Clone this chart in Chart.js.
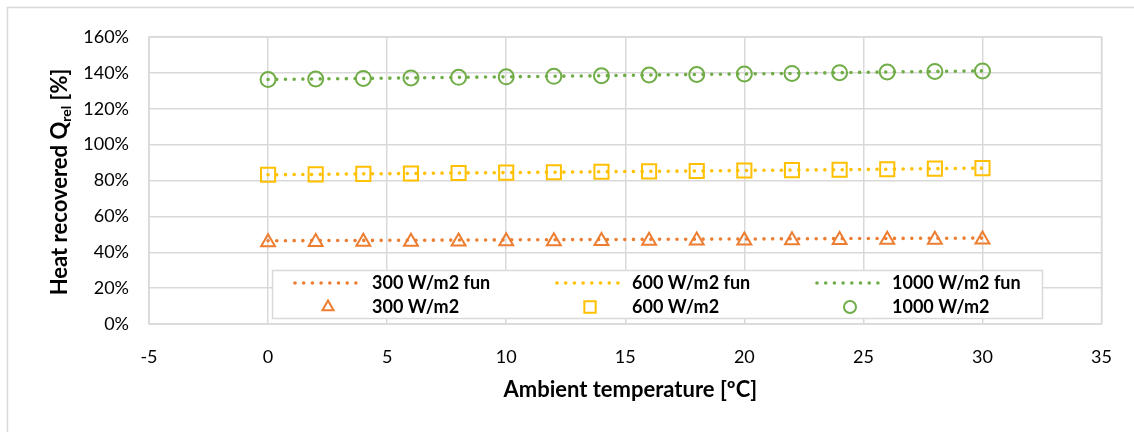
<!DOCTYPE html>
<html>
<head>
<meta charset="utf-8">
<script src="https://cdn.jsdelivr.net/npm/chart.js@4"></script>
<style>
  html, body { margin: 0; padding: 0; background: #fff; }
  #wrap { position: relative; width: 1134px; height: 432px; }
</style>
</head>
<body>
<div id="wrap"><canvas id="c" width="1134" height="432"></canvas></div>
<script>
/* ── data ── */
const TEMPS = [0, 2, 4, 6, 8, 10, 12, 14, 16, 18, 20, 22, 24, 26, 28, 30];

const Q300  = [45.6, 45.7, 45.8, 45.9, 46.0, 46.1, 46.2, 46.3, 46.4, 46.5, 46.6, 46.7, 46.8, 46.9, 47.0, 47.1];
const Q600  = [83.2, 83.4, 83.7, 83.9, 84.2, 84.4, 84.6, 84.9, 85.1, 85.3, 85.6, 85.8, 86.0, 86.3, 86.6, 86.9];
const Q1000 = [136.3, 136.6, 136.9, 137.2, 137.5, 137.8, 138.1, 138.4, 138.8, 139.1, 139.4, 139.7, 140.1, 140.5, 140.8, 141.1];

const FUN300  = [46.4, 46.5, 46.6, 46.7, 46.8, 46.9, 47.0, 47.1, 47.2, 47.3, 47.4, 47.5, 47.6, 47.7, 47.8, 47.9];
const FUN600  = [83.2, 83.4, 83.7, 83.9, 84.2, 84.4, 84.6, 84.9, 85.1, 85.3, 85.6, 85.8, 86.0, 86.3, 86.6, 86.9];
const FUN1000 = [136.3, 136.6, 136.9, 137.2, 137.5, 137.8, 138.1, 138.4, 138.8, 139.1, 139.4, 139.7, 140.1, 140.5, 140.8, 141.1];

const X_TICKS = [-5, 0, 5, 10, 15, 20, 25, 30, 35];
const Y_TICKS = [0, 20, 40, 60, 80, 100, 120, 140, 160];

const LABELS_FUN = ['300 W/m2 fun', '600 W/m2 fun', '1000 W/m2 fun'];
const LABELS_PTS = ['300 W/m2', '600 W/m2', '1000 W/m2'];

const ORANGE = '#ED7D31', YELLOW = '#FFC000', GREEN = '#70AD47';
const GRID = '#d9d9d9';
const FONT = 'Lato, "Open Sans", sans-serif';

const pts = arr => TEMPS.map((t, i) => ({ x: t, y: arr[i] }));

function funSet(label, arr, col) {
  return {
    label, data: pts(arr), showLine: true, pointRadius: 0,
    borderColor: col, borderWidth: 3.6, borderDash: [0, 8.7], borderCapStyle: 'round',
    order: 0
  };
}
function ptSet(label, arr, col, style, r) {
  return {
    label, data: pts(arr), showLine: false, pointStyle: style, pointRadius: r,
    pointBorderColor: col, pointBackgroundColor: 'rgba(0,0,0,0)', pointBorderWidth: 2,
    borderColor: col, order: 1
  };
}

/* ── frame, titles and in-plot legend ── */
const decor = {
  id: 'decor',
  beforeDraw(chart) {
    const ctx = chart.ctx;
    ctx.save();
    ctx.fillStyle = '#fff';
    ctx.fillRect(0, 0, chart.width, chart.height);
    ctx.strokeStyle = GRID; ctx.lineWidth = 1.5;
    ctx.strokeRect(7.5, 7.5, 1140, 500);
    ctx.restore();
  },
  afterDraw(chart) {
    const ctx = chart.ctx, a = chart.chartArea;
    ctx.save();
    // plot border
    ctx.strokeStyle = GRID; ctx.lineWidth = 1.5;
    ctx.strokeRect(a.left, a.top, a.right - a.left, a.bottom - a.top);

    // x title
    ctx.fillStyle = '#000';
    ctx.font = `bold 22px ${FONT}`;
    ctx.textAlign = 'center'; ctx.textBaseline = 'middle';
    ctx.fillText('Ambient temperature [ºC]', (a.left + a.right) / 2 + 5, 390);

    // y title with subscript
    ctx.translate(60, 182);
    ctx.rotate(-Math.PI / 2);
    const big = `bold 22px ${FONT}`, sub = `bold 14px ${FONT}`;
    const parts = [['Heat recovered Q', big, 0], ['rel', sub, 6], [' [%]', big, 0]];
    let w = 0;
    parts.forEach(([t, f]) => { ctx.font = f; w += ctx.measureText(t).width; });
    let x = -w / 2;
    ctx.textAlign = 'left';
    parts.forEach(([t, f, dy]) => { ctx.font = f; ctx.fillText(t, x, dy); x += ctx.measureText(t).width; });
    ctx.restore();

    // legend
    ctx.save();
    const box = { l: 272, t: 270, r: 1042, b: 318 };
    ctx.fillStyle = '#fff';
    ctx.fillRect(box.l, box.t, box.r - box.l, box.b - box.t);
    ctx.strokeStyle = GRID; ctx.lineWidth = 1.5;
    ctx.strokeRect(box.l + 0.5, box.t + 0.5, box.r - box.l, box.b - box.t);
    const cols = [295, 557, 817], textX = [372, 632, 892], rows = [283, 307];
    const ds = chart.data.datasets;
    ctx.font = `bold 18px ${FONT}`;
    ctx.textBaseline = 'middle'; ctx.textAlign = 'left';
    for (let i = 0; i < 3; i++) {
      const f = ds[i], p = ds[i + 3];
      ctx.strokeStyle = f.borderColor; ctx.lineWidth = f.borderWidth;
      ctx.setLineDash(f.borderDash); ctx.lineCap = 'round';
      ctx.beginPath(); ctx.moveTo(cols[i], rows[0]); ctx.lineTo(cols[i] + 64, rows[0]); ctx.stroke();
      ctx.setLineDash([]);
      ctx.fillStyle = '#000';
      ctx.fillText(f.label, textX[i], rows[0]);
      ctx.fillText(p.label, textX[i], rows[1]);
      ctx.fillStyle = 'rgba(0,0,0,0)';
      ctx.lineWidth = 2; ctx.strokeStyle = p.pointBorderColor;
      Chart.helpers.drawPoint(ctx, {
        pointStyle: p.pointStyle, radius: p.pointRadius * 0.8, borderWidth: 2
      }, cols[i] + 33, rows[1]);
    }
    ctx.restore();
  }
};

new Chart(document.getElementById('c'), {
  type: 'scatter',
  data: {
    datasets: [
      funSet(LABELS_FUN[0], FUN300, ORANGE),
      funSet(LABELS_FUN[1], FUN600, YELLOW),
      funSet(LABELS_FUN[2], FUN1000, GREEN),
      ptSet(LABELS_PTS[0], Q300, ORANGE, 'triangle', 8),
      ptSet(LABELS_PTS[1], Q600, YELLOW, 'rect', 10),
      ptSet(LABELS_PTS[2], Q1000, GREEN, 'circle', 7.5)
    ]
  },
  options: {
    responsive: false, animation: false,
    layout: { padding: { top: 37, right: 32, left: 0, bottom: 0 } },
    plugins: { legend: { display: false }, tooltip: { enabled: false } },
    scales: {
      x: {
        type: 'linear', min: -5, max: 35,
        afterBuildTicks: s => { s.ticks = X_TICKS.map(v => ({ value: v })); },
        afterFit: s => { s.height = 108; },
        grid: { color: GRID, lineWidth: 1.5, drawTicks: false },
        border: { display: false },
        ticks: { padding: 22, color: '#000', font: { family: FONT, size: 18 } }
      },
      y: {
        min: 0, max: 160,
        afterBuildTicks: s => { s.ticks = Y_TICKS.map(v => ({ value: v })); },
        afterFit: s => { s.width = 149; },
        grid: { color: GRID, lineWidth: 1.5, drawTicks: false },
        border: { display: false },
        ticks: { padding: 20, color: '#000', font: { family: FONT, size: 18 }, callback: v => v + '%' }
      }
    }
  },
  plugins: [decor]
});
</script>
</body>
</html>
